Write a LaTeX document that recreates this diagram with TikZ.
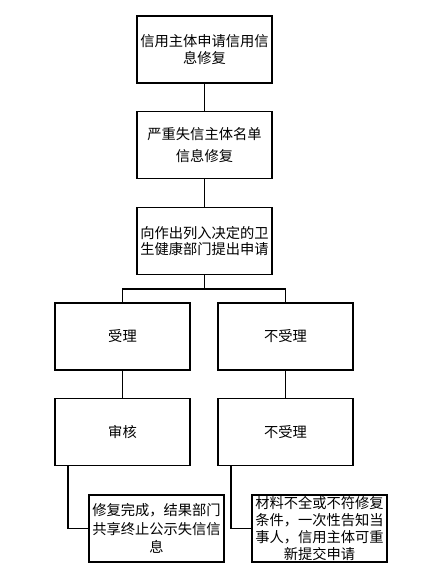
\documentclass[tikz,border=0pt]{standalone}
\usepackage{fontspec}
\setmainfont{Noto Sans CJK SC}
\usepackage{tikz}
\tikzset{
    % Flow chart styles
    step box/.style={rectangle, draw, line width=1.3pt, minimum width=101.25pt, minimum height=50.25pt, inner sep=1pt, align=center, font=\fontsize{10.7pt}{12.5pt}\selectfont},
    wide lines/.style={font=\fontsize{10.7pt}{17pt}\selectfont},
    note box/.style={step box, font=\fontsize{10.7pt}{13.6pt}\selectfont},
    tight note/.style={step box, inner sep=0pt, font=\fontsize{10.7pt}{12.6pt}\selectfont},
    link/.style={line width=1.3pt}
}
\begin{document}
\begin{tikzpicture}[x=0.75pt, y=-0.75pt]
\useasboundingbox (0,0) rectangle (428,574);

% Application steps
\node[step box] (apply) at (204.5,49.5) {信用主体申请信用信\\息修复};
\node[step box, wide lines] (serious) at (204.5,145) {严重失信主体名单\\信息修复};
\node[step box] (submit) at (204.5,241) {向作出列入决定的卫\\生健康部门提出申请};

% Decision
\node[step box] (accept) at (122.5,336.5) {受理};
\node[step box] (reject) at (285.5,336.5) {不受理};
\node[step box] (audit) at (122.5,432) {审核};
\node[step box] (reject2) at (285.5,432) {不受理};

% Results
\node[note box] (done) at (156.5,528.5) {修复完成，结果部门\\共享终止公示失信信\\息};
\node[tight note] (notice) at (319.5,528.5) {材料不全或不符修复\\条件，一次性告知当\\事人，信用主体可重\\新提交申请};

% Connectors
\coordinate (split) at (204.5,289);
\draw[link] (apply) -- (serious);
\draw[link] (serious) -- (submit);
\draw[link] (submit) -- (split);
\draw[link] (accept.north) |- (split) -| (reject.north);
\draw[link] (accept) -- (audit);
\draw[link] (reject) -- (reject2);
\draw[link] ([xshift=10.5pt]audit.south west) |- (done.west);
\draw[link] ([xshift=10.5pt]reject2.south west) |- (notice.west);
\end{tikzpicture}
\end{document}
